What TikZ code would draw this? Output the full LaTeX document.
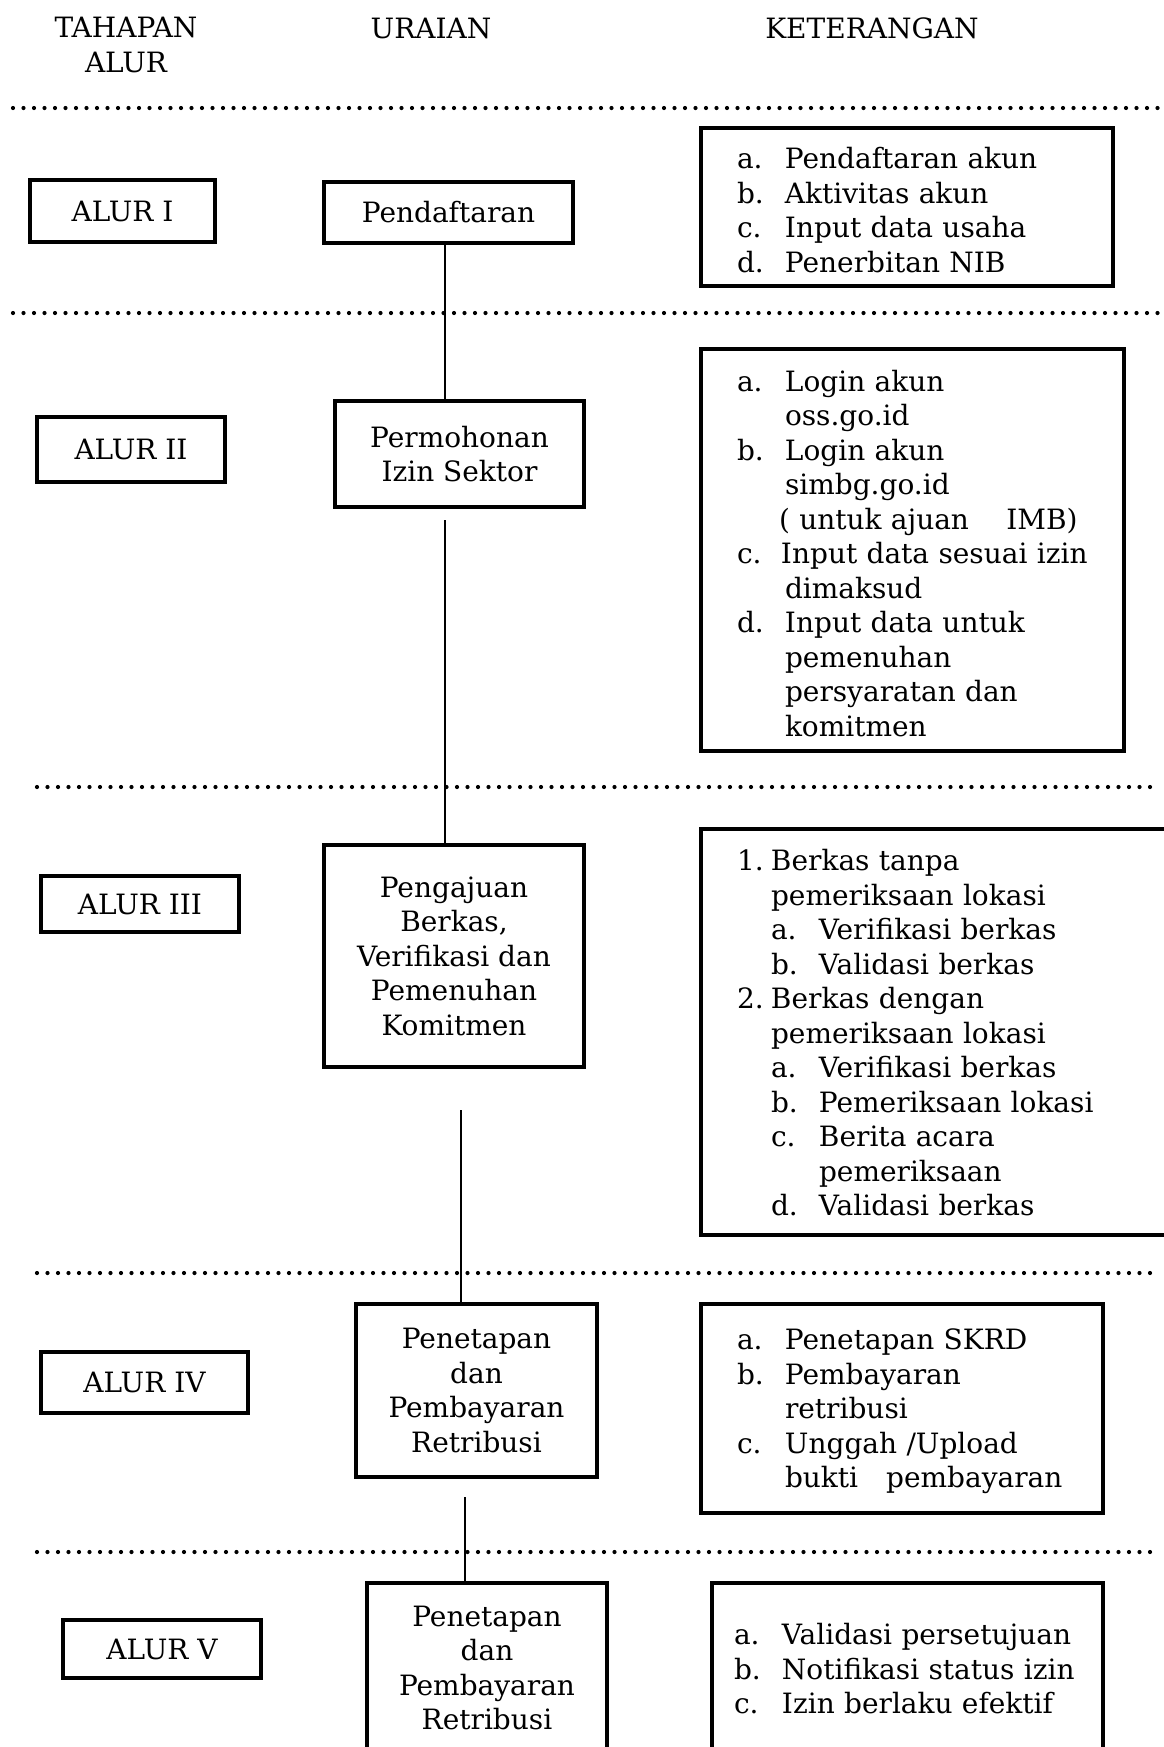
\documentclass[tikz,border=0pt]{standalone}
\usepackage{fontspec}
\setmainfont{DejaVu Serif}
\usetikzlibrary{positioning}

\begin{document}
\begin{tikzpicture}[x=0.5pt,y=-0.5pt,
  font=\fontsize{14}{17.25}\selectfont,
  alur/.style={draw,line width=2pt,inner sep=0pt},
  urai/.style={draw,line width=2pt,align=center,inner sep=0pt},
  ket/.style={draw,line width=2pt,align=left,inner xsep=18pt,inner ysep=0pt,
    execute at begin node=\vspace{#1}},
  ket/.default=-5pt,
  batas/.style={line width=2.1pt,line cap=round,dash pattern=on 0pt off 5.25pt},
  link/.style={line width=1.3pt}]
  \useasboundingbox (0,0) rectangle (1163,1747);
  \node[align=center] (h1) at (126,45) {TAHAPAN\\ALUR};
  \node (h2) at (431,28) {URAIAN};
  \node (h3) at (872,28) {KETERANGAN};
  \draw[batas] (13,108) -- (1159,108);
  \draw[batas] (13,313) -- (1159,313);
  \draw[batas] (37,787) -- (1159,787);
  \draw[batas] (37,1273) -- (1159,1273);
  \draw[batas] (37,1552) -- (1159,1552);
  \node[alur,minimum width=92.5pt,minimum height=31pt] (a1) at (122.5,211) {ALUR I};
  \node[alur,minimum width=94pt,minimum height=32.5pt] (a2) at (131,449.5) {ALUR II};
  \node[alur,minimum width=99pt,minimum height=28pt] (a3) at (140,904) {ALUR III};
  \node[alur,minimum width=103.5pt,minimum height=30.5pt] (a4) at (144.5,1382.5) {ALUR IV};
  \node[alur,minimum width=99pt,minimum height=29pt] (a5) at (162,1649) {ALUR V};
  \node[urai,minimum width=124.5pt,minimum height=30.5pt] (pend) at (448.5,212.5) {Pendaftaran};
  \node[urai,minimum width=124.5pt,minimum height=53pt] (perm) at (459.5,454) {Permohonan\\Izin Sektor};
  \node[urai,minimum width=130pt,minimum height=111pt] (peng) at (454,956) {Pengajuan\\Berkas,\\Verifikasi dan\\Pemenuhan\\Komitmen};
  \node[urai,minimum width=120.5pt,minimum height=86.5pt] (pen4) at (476.5,1390.5) {Penetapan\\dan\\Pembayaran\\Retribusi};
  \node[urai,minimum width=120pt,minimum height=85pt] (pen5) at (487,1668) {Penetapan\\dan\\Pembayaran\\Retribusi};
  \node[ket=-6.7pt,text width=170pt,minimum width=206pt,minimum height=79pt] (k1) at (907,207) {%
    \begin{tabular}{@{}p{24pt}@{}l@{}}
    a.&Pendaftaran akun\\
    b.&Aktivitas akun\\
    c.&Input data usaha\\
    d.&Penerbitan NIB
    \end{tabular}};
  \node[ket=-6.7pt,text width=175.5pt,minimum width=211.5pt,minimum height=201pt] (k2) at (912.5,550) {%
    \begin{tabular}{@{}p{24pt}@{}l@{}}
    a.&Login akun\\
    &oss.go.id\\
    b.&Login akun\\
    &simbg.go.id\\
    &\hspace{-3pt}( untuk ajuan\ \ \ \ IMB)\\
    c.&\hspace{-2pt}Input data sesuai izin\\
    &dimaksud\\
    d.&Input data untuk\\
    &pemenuhan\\
    &persyaratan dan\\
    &komitmen
    \end{tabular}};
  \node[ket=-4.5pt,text width=201pt,minimum width=237pt,minimum height=203pt] (k3) at (938,1032) {%
    \begin{tabular}{@{}p{17pt}@{}p{24pt}@{}l@{}}
    1.&\multicolumn{2}{@{}l@{}}{Berkas tanpa}\\
    &\multicolumn{2}{@{}l@{}}{pemeriksaan lokasi}\\
    &a.&Verifikasi berkas\\
    &b.&Validasi berkas\\
    2.&\multicolumn{2}{@{}l@{}}{Berkas dengan}\\
    &\multicolumn{2}{@{}l@{}}{pemeriksaan lokasi}\\
    &a.&Verifikasi berkas\\
    &b.&Pemeriksaan lokasi\\
    &c.&Berita acara\\
    &&pemeriksaan\\
    &d.&Validasi berkas
    \end{tabular}};
  \node[ket=-3.5pt,text width=165pt,minimum width=201pt,minimum height=104.5pt] (k4) at (902,1408.5) {%
    \begin{tabular}{@{}p{24pt}@{}l@{}}
    a.&Penetapan SKRD\\
    b.&Pembayaran\\
    &retribusi\\
    c.&Unggah /Upload\\
    &bukti\ \ \ pembayaran
    \end{tabular}};
  \node[ket=-3.5pt,inner xsep=11pt,text width=173.5pt,minimum width=195.5pt,minimum height=86pt] (k5) at (907.5,1669) {%
    \begin{tabular}{@{}p{24pt}@{}l@{}}
    a.&Validasi persetujuan\\
    b.&Notifikasi status izin\\
    c.&Izin berlaku efektif
    \end{tabular}};
  \coordinate (g1) at (445,520);
  \coordinate (g2) at (461,1110);
  \coordinate (g3) at (465,1497);
  \draw[link] (pend.south -| g1) -- (perm.north -| g1);
  \draw[link] (g1) -- (g1 |- peng.north);
  \draw[link] (g2) -- (g2 |- pen4.north);
  \draw[link] (g3) -- (g3 |- pen5.north);
\end{tikzpicture}
\end{document}
